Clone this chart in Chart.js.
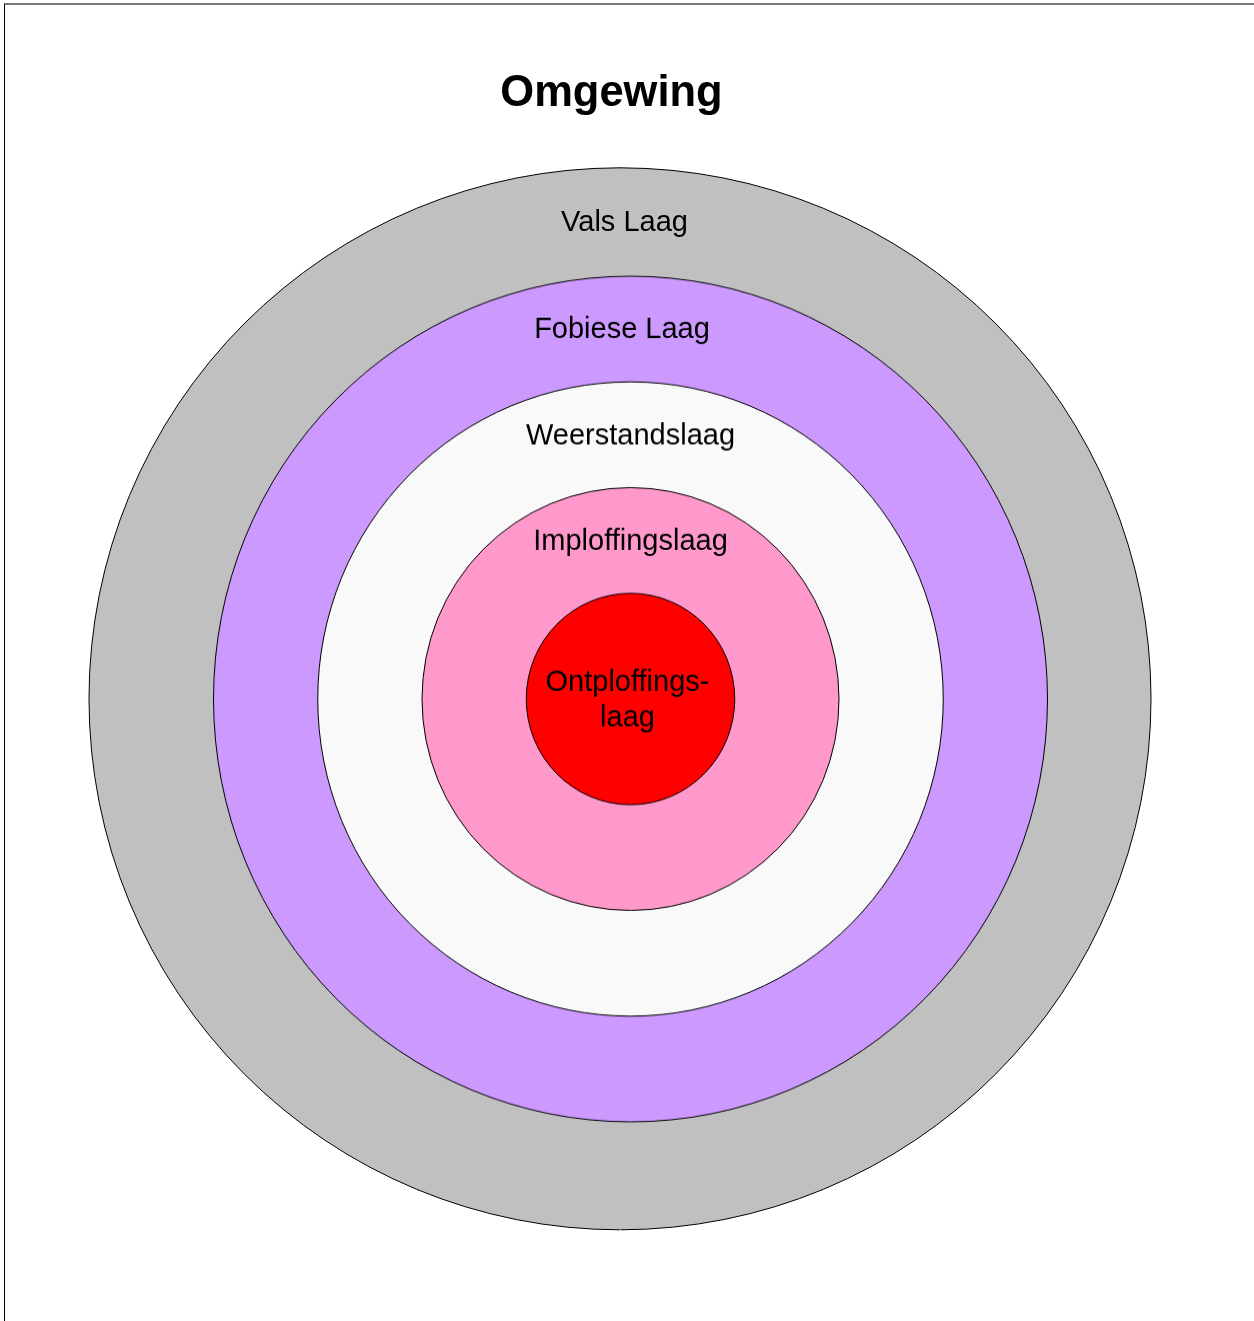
<!DOCTYPE html>
<html>
<head>
<meta charset="utf-8">
<script src="https://cdn.jsdelivr.net/npm/chart.js@4"></script>
<style>
  html, body { margin: 0; padding: 0; background: #fff; }
  #wrap { position: relative; width: 1254px; height: 1321px; overflow: hidden; }
  #frame { position: absolute; left: 4px; top: 3px; right: -10px; bottom: -10px;
           border-top: 2px solid #7a7a7a; border-left: 1px solid #000; }
  canvas { position: absolute; left: 0; top: 0; }
  #inner { transform-origin: 630.5px 699px; transform: scaleY(1.014); }
</style>
</head>
<body>
<div id="wrap">
  <div id="frame"></div>
  <canvas id="outer" width="1254" height="1321"></canvas>
  <canvas id="inner" width="1254" height="1321"></canvas>
</div>
<script>
// ---- data ----
const chartTitle = 'Omgewing';
const layerNames = ['Vals Laag', 'Fobiese Laag', 'Weerstandslaag', 'Imploffingslaag', ['Ontploffings-', 'laag']];
const layerValues = [1, 1, 1, 1, 1];
const layerColors = ['#C0C0C0', '#CC99FF', '#F9F9F9', '#FF99CC', '#FF0000'];

// Border dash that strokes only the outer circle of each full-circle arc
// (each boundary between layers is the outer circle of the inner layer),
// skipping the radial seam segments of the arc path.
function outerCircleDash(c) {
  const ctrl = c.chart.getDatasetMeta(c.datasetIndex).controller;
  const ro = ctrl.outerRadius || 0;
  return [Math.max(2 * Math.PI * ro - 1, 0), 100000];
}

// ---- label plugin (positions derived from arc geometry) ----
const ringLabels = {
  id: 'ringLabels',
  afterDatasetsDraw(chart, args, opts) {
    const ctx = chart.ctx;
    ctx.save();
    ctx.font = opts.font;
    ctx.fillStyle = '#000';
    ctx.textAlign = 'center';
    ctx.textBaseline = 'middle';
    chart.data.datasets.forEach((ds, i) => {
      const arc = chart.getDatasetMeta(i).data[0];
      if (!arc) return;
      const p = arc.getProps(['x', 'y', 'innerRadius', 'outerRadius'], true);
      let y;
      if (p.innerRadius > 0) y = p.y - (p.innerRadius + p.outerRadius) / 2;
      else if (opts.band) y = p.y - p.outerRadius + opts.band / 2;
      else y = p.y;
      const lines = [].concat(opts.names[i]);
      const dx = (opts.dx && opts.dx[i]) || 0;
      const dy = (opts.dy && opts.dy[i]) || 0;
      const lh = opts.lineHeight;
      lines.forEach((t, k) => {
        ctx.fillText(t, p.x + dx, y + dy + (k - (lines.length - 1) / 2) * lh);
      });
    });
    ctx.restore();
  }
};

Chart.defaults.font.family = '"Liberation Sans", Arial, sans-serif';
Chart.defaults.animation = false;

// ---- outer (gray) layer + title ----
new Chart(document.getElementById('outer'), {
  type: 'pie',
  data: {
    labels: [layerNames[0]],
    datasets: [{
      label: layerNames[0],
      data: [layerValues[0]],
      backgroundColor: [layerColors[0]],
      borderColor: '#000',
      borderWidth: 1,
      borderDash: outerCircleDash,
      borderDashOffset: 0
    }]
  },
  plugins: [ringLabels],
  options: {
    responsive: false,
    events: [],
    radius: 531,
    rotation: 180,
    layout: { padding: { top: 68, right: 31, bottom: 43.6, left: 0 } },
    plugins: {
      tooltip: { enabled: false },
      legend: {
        display: true, position: 'left', maxWidth: 17,
        labels: { padding: 7, filter: () => false }
      },
      title: {
        display: true, text: chartTitle, color: '#000',
        font: { size: 43.5, weight: 'bold' },
        padding: { top: 0, bottom: 0 }
      },
      ringLabels: {
        names: [layerNames[0]],
        font: '29px "Liberation Sans", Arial, sans-serif',
        lineHeight: 35, band: 108, dx: [4.5], dy: [1]
      }
    }
  }
});

// ---- inner layers (outer layers drawn first, inner ones on top) ----
const innerNames = layerNames.slice(1);
new Chart(document.getElementById('inner'), {
  type: 'pie',
  data: {
    labels: ['layer'],
    datasets: innerNames.map((n, i) => ({
      label: [].concat(n).join(''),
      data: [layerValues[i + 1]],
      backgroundColor: [layerColors[i + 1]],
      borderColor: '#000',
      borderWidth: 1,
      borderDash: outerCircleDash,
      borderDashOffset: 0,
      order: innerNames.length - i
    }))
  },
  plugins: [ringLabels],
  options: {
    responsive: false,
    events: [],
    radius: 417,
    rotation: 180,
    layout: { padding: { top: 77, right: 0, bottom: 0, left: 7 } },
    plugins: {
      tooltip: { enabled: false },
      legend: { display: false },
      title: { display: false },
      ringLabels: {
        names: innerNames,
        font: '29px "Liberation Sans", Arial, sans-serif',
        lineHeight: 35, dx: [-8.5, 0, 0, -3], dy: [0.5, 2, 1, 1]
      }
    }
  }
});
</script>
</body>
</html>
